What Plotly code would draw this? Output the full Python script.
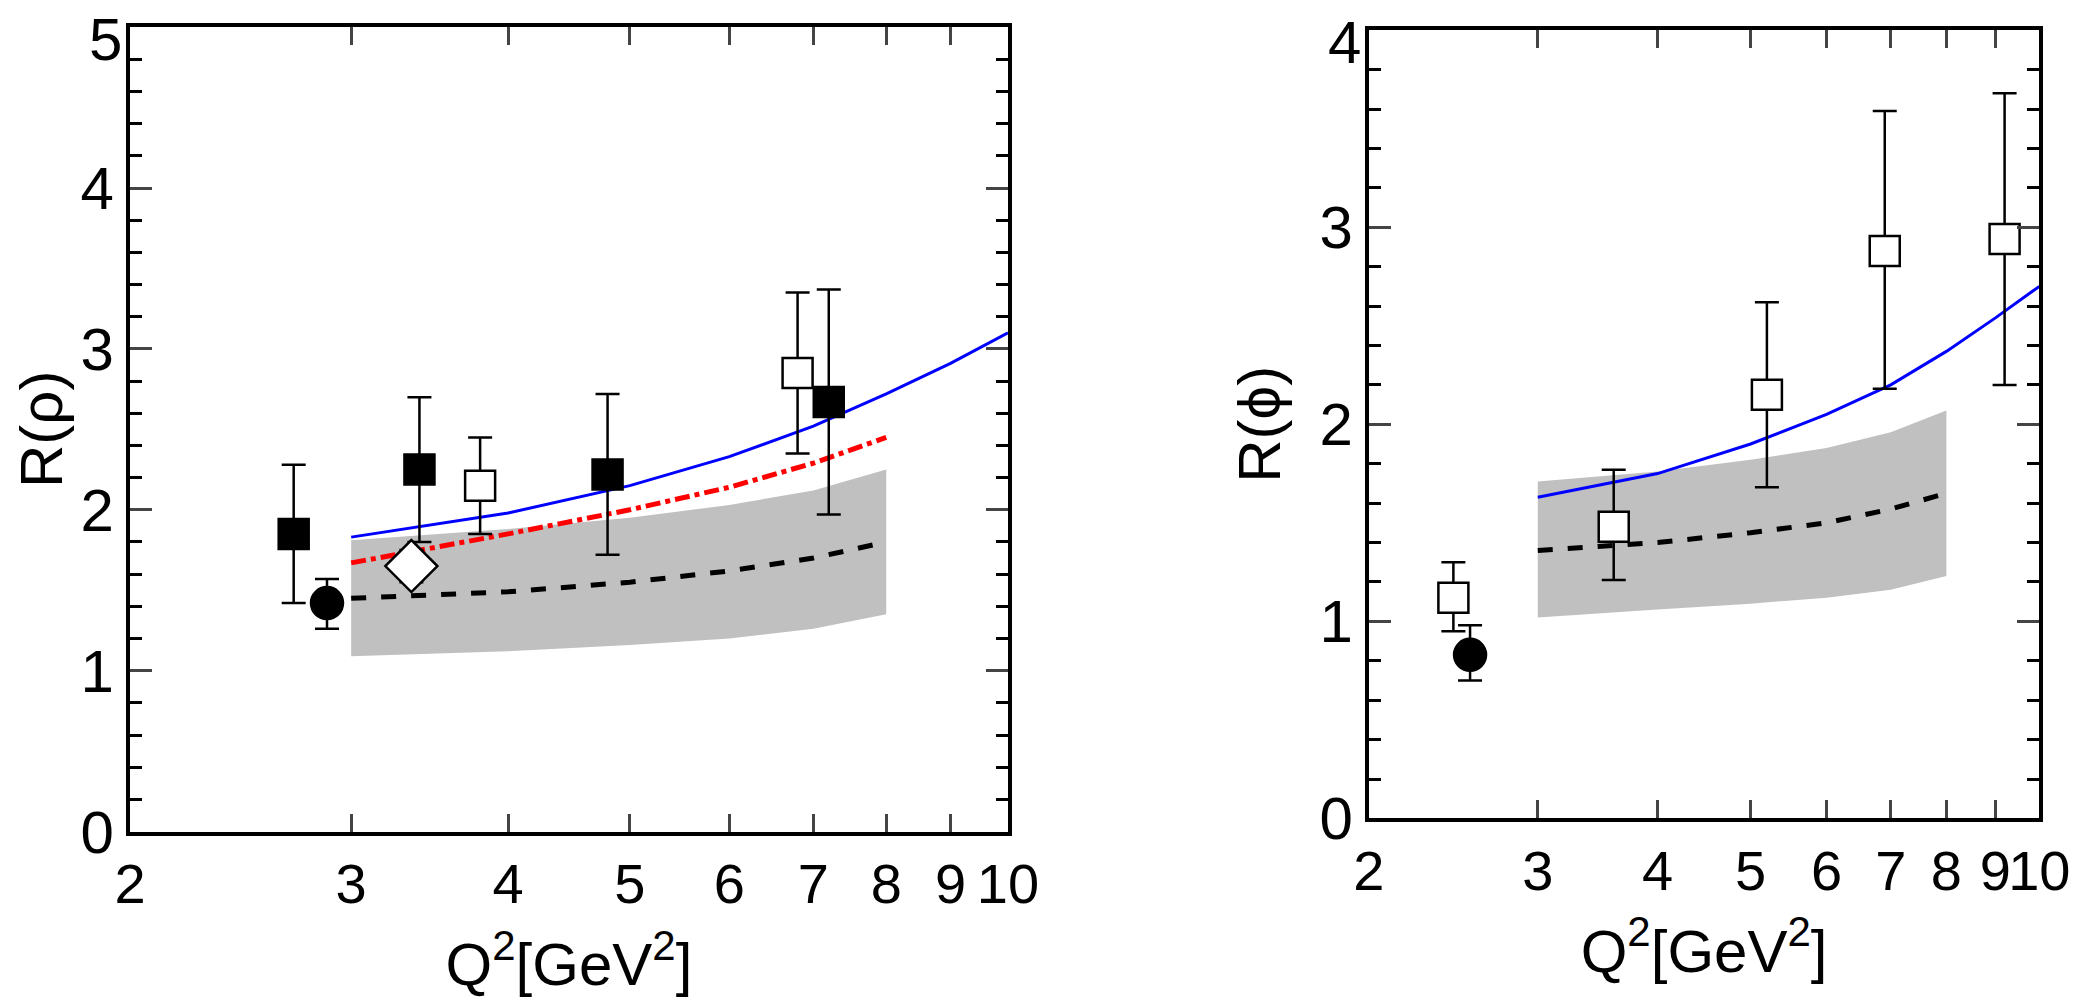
import plotly.graph_objects as go

# ---- left panel: R(rho) ----
L_fs_x = [2.7, 3.4, 4.8, 7.2]; L_fs_y = [1.85, 2.25, 2.22, 2.67]
L_fs_up = [0.43, 0.45, 0.50, 0.70]; L_fs_dn = [0.43, 0.45, 0.50, 0.70]
L_fc_x = [2.87]; L_fc_y = [1.42]; L_fc_up = [0.15]; L_fc_dn = [0.16]
L_os_x = [3.8, 6.8]; L_os_y = [2.15, 2.85]; L_os_up = [0.30, 0.50]; L_os_dn = [0.30, 0.50]
L_od_x = [3.35]; L_od_y = [1.65]; L_od_up = [0.10]; L_od_dn = [0.10]
L_blue_x = [3, 4, 5, 6, 7, 8, 9, 10]; L_blue_y = [1.83, 1.98, 2.15, 2.33, 2.52, 2.72, 2.91, 3.10]
L_th_x = [3, 4, 5, 6, 7, 8]
L_red_y = [1.67, 1.85, 2.00, 2.14, 2.29, 2.45]
L_dash_y = [1.45, 1.49, 1.55, 1.62, 1.70, 1.80]
L_band_hi = [1.81, 1.88, 1.95, 2.03, 2.12, 2.25]
L_band_lo = [1.09, 1.12, 1.16, 1.20, 1.26, 1.35]

# ---- right panel: R(phi) ----
R_os_x = [2.45, 3.6, 5.2, 6.9, 9.2]; R_os_y = [1.12, 1.48, 2.15, 2.88, 2.94]
R_os_up = [0.18, 0.29, 0.47, 0.71, 0.74]; R_os_dn = [0.17, 0.27, 0.47, 0.70, 0.74]
R_fc_x = [2.55]; R_fc_y = [0.83]; R_fc_up = [0.15]; R_fc_dn = [0.13]
R_blue_x = [3, 4, 5, 6, 7, 8, 9, 10]; R_blue_y = [1.63, 1.75, 1.90, 2.05, 2.20, 2.37, 2.54, 2.70]
R_th_x = [3, 4, 5, 6, 7, 8]
R_dash_y = [1.36, 1.40, 1.45, 1.50, 1.57, 1.65]
R_band_hi = [1.71, 1.76, 1.82, 1.88, 1.96, 2.07]
R_band_lo = [1.02, 1.06, 1.09, 1.12, 1.16, 1.23]

xticks = [2, 3, 4, 5, 6, 7, 8, 9, 10]
xtick_text = ["2", "3", "4", "5", "6", "7", "8", "9", "10"]
L_yticks = [0, 1, 2, 3, 4, 5]
R_yticks = [0, 1, 2, 3, 4]

fig = go.Figure()
GRAY = "#c0c0c0"

def band(x, lo, hi, xa, ya):
    fig.add_trace(go.Scatter(x=x + x[::-1], y=hi + lo[::-1], fill="toself", fillcolor=GRAY,
                             line=dict(width=0), mode="lines", xaxis=xa, yaxis=ya, hoverinfo="skip"))

def pts(x, y, up, dn, sym, fill, size, xa, ya):
    fig.add_trace(go.Scatter(x=x, y=y, mode="markers", xaxis=xa, yaxis=ya,
                             error_y=dict(type="data", array=up, arrayminus=dn, color="black",
                                          thickness=2.5, width=12),
                             marker=dict(symbol=sym, size=size, color=fill,
                                         line=dict(color="black", width=2.5))))

band(L_th_x, L_band_lo, L_band_hi, "x", "y")
fig.add_trace(go.Scatter(x=L_th_x, y=L_dash_y, mode="lines", line=dict(color="black", width=5, dash="dash"), xaxis="x", yaxis="y"))
fig.add_trace(go.Scatter(x=L_th_x, y=L_red_y, mode="lines", line=dict(color="red", width=5, dash="dashdot"), xaxis="x", yaxis="y"))
fig.add_trace(go.Scatter(x=L_blue_x, y=L_blue_y, mode="lines", line=dict(color="blue", width=3), xaxis="x", yaxis="y"))
pts(L_fs_x, L_fs_y, L_fs_up, L_fs_dn, "square", "black", 30, "x", "y")
pts(L_fc_x, L_fc_y, L_fc_up, L_fc_dn, "circle", "black", 32, "x", "y")
pts(L_os_x, L_os_y, L_os_up, L_os_dn, "square", "white", 30, "x", "y")
pts(L_od_x, L_od_y, L_od_up, L_od_dn, "diamond", "white", 40, "x", "y")

band(R_th_x, R_band_lo, R_band_hi, "x2", "y2")
fig.add_trace(go.Scatter(x=R_th_x, y=R_dash_y, mode="lines", line=dict(color="black", width=5, dash="dash"), xaxis="x2", yaxis="y2"))
fig.add_trace(go.Scatter(x=R_blue_x, y=R_blue_y, mode="lines", line=dict(color="blue", width=3), xaxis="x2", yaxis="y2"))
pts(R_os_x, R_os_y, R_os_up, R_os_dn, "square", "white", 30, "x2", "y2")
pts(R_fc_x, R_fc_y, R_fc_up, R_fc_dn, "circle", "black", 32, "x2", "y2")

font = dict(family="Liberation Sans Narrow, Liberation Sans, Arial", size=60, color="black")
xfont = dict(family="Liberation Sans Narrow, Liberation Sans, Arial", size=56, color="black")
xcommon = dict(type="log", range=[0.30103, 1], tickvals=xticks, ticktext=xtick_text, automargin=False,
               tickangle=0, ticks="inside", ticklen=18, tickwidth=3, showline=True, linewidth=4,
               linecolor="black", mirror="ticks", showgrid=False, zeroline=False, tickfont=xfont,
               title=dict(text="Q<sup>2</sup>[GeV<sup>2</sup>]", font=font, standoff=30))
ycommon = dict(ticks="inside", ticklen=22, tickwidth=3, showline=True, linewidth=4, linecolor="black",
               mirror="ticks", showgrid=False, zeroline=False, tickfont=font, automargin=False,
               minor=dict(dtick=0.2, ticks="inside", ticklen=12, tickwidth=3, tickcolor="black"))

L_dom = [0.0583, 0.478]
R_dom = [0.6505, 0.971]
fig.update_layout(
    width=2092, height=1008, paper_bgcolor="white", plot_bgcolor="white", showlegend=False,
    margin=dict(l=0, r=0, t=0, b=0), font=font,
    xaxis=dict(domain=L_dom, anchor="y", **xcommon),
    yaxis=dict(domain=[0.183, 0.981], anchor="x", range=[0, 5], tickvals=L_yticks,
               title=dict(text="R(ρ)", font=font, standoff=20), **ycommon),
    xaxis2=dict(domain=R_dom, anchor="y2", **xcommon),
    yaxis2=dict(domain=[0.196, 0.978], anchor="x2", range=[0, 4], tickvals=R_yticks,
                title=dict(text="R(ϕ)", font=font, standoff=20), **ycommon),
)
# top tick labels that plotly drops at the paper edge
fig.add_annotation(text=str(L_yticks[-1]), xref="paper", x=L_dom[0], yref="y", y=L_yticks[-1],
                   xanchor="right", yanchor="middle", xshift=-6, yshift=-12, showarrow=False, font=font)
fig.add_annotation(text=str(R_yticks[-1]), xref="paper", x=R_dom[0], yref="y2", y=R_yticks[-1],
                   xanchor="right", yanchor="middle", xshift=-6, yshift=-12, showarrow=False, font=font)
fig.write_html("out.html")
